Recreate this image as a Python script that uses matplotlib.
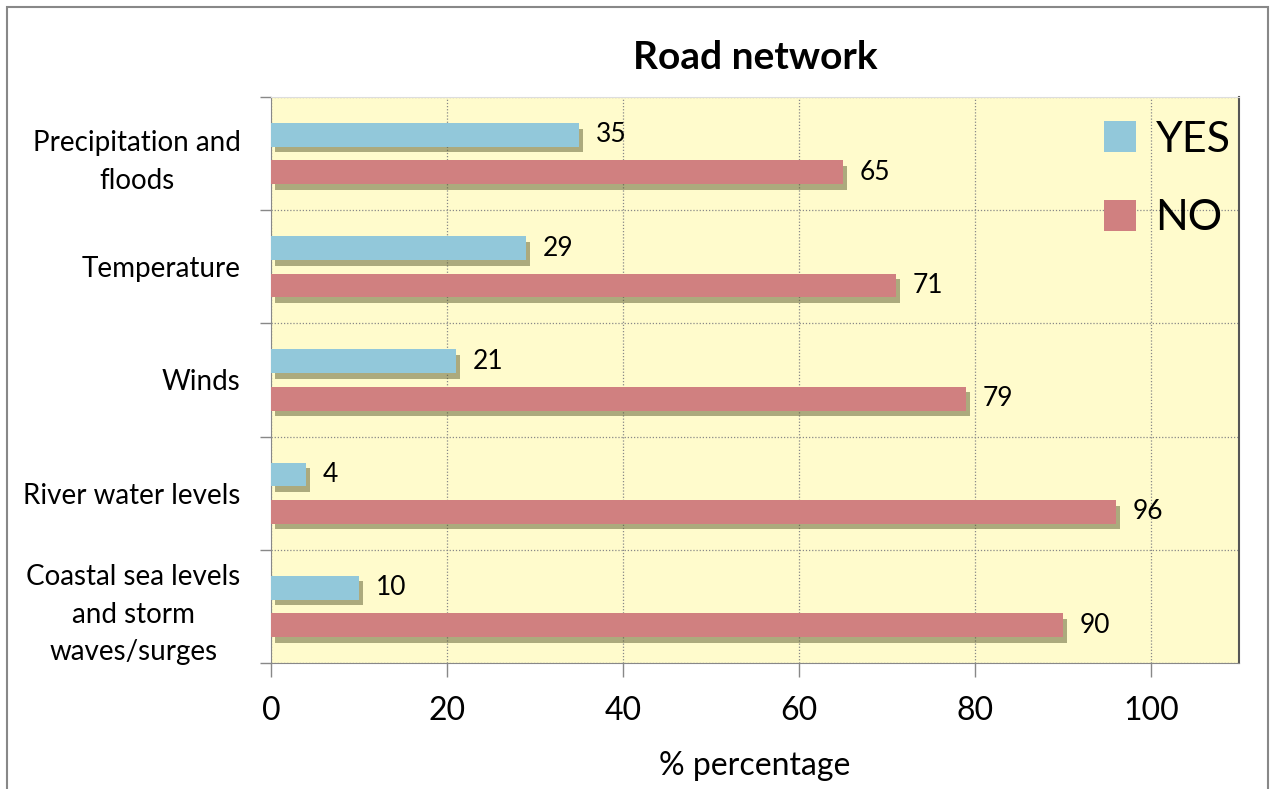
import matplotlib
matplotlib.use("Agg")
import matplotlib.pyplot as plt
import matplotlib.patheffects as pe
from matplotlib.patches import Rectangle
import numpy as np

categories = ["Precipitation and\nfloods", "Temperature", "Winds",
              "River water levels", "Coastal sea levels\nand storm\nwaves/surges"]
yes_vals = [35, 29, 21, 4, 10]
no_vals = [65, 71, 79, 96, 90]
xticks = [0, 20, 40, 60, 80, 100]

plt.rcParams['font.family'] = ['Lato', 'DejaVu Sans']

W, H = 1274, 789
fig = plt.figure(figsize=(W / 100, H / 100), dpi=100)
ax = fig.add_axes([271 / W, 1 - 663 / H, (1239 - 271) / W, (663 - 97) / H])
ax.set_facecolor('#FFFBCC')

y = np.arange(len(categories))
off = 0.165
h = 0.21
shadow = [pe.SimplePatchShadow(offset=(3, -4), shadow_rgbFace='#5a5a30', alpha=0.5), pe.Normal()]
b1 = ax.barh(y - off, yes_vals, height=h, color='#92C8DA', label='YES', zorder=3)
b2 = ax.barh(y + off, no_vals, height=h, color='#D08080', label='NO', zorder=3)
for bars in (b1, b2):
    for p in bars:
        p.set_path_effects(shadow)
    ax.bar_label(bars, labels=[str(v) for v in bars.datavalues], padding=12,
                 fontsize=19, color='black')

ax.set_xlim(0, 110)
ax.set_ylim(len(categories) - 0.5, -0.5)
ax.set_xticks(xticks)
ax.set_xticklabels([str(t) for t in xticks], fontsize=23)
ax.tick_params(axis='x', length=10, width=1, color='#888888', pad=14)

ax.set_yticks(y)
ax.set_yticklabels(categories, fontsize=20, linespacing=1.55, multialignment='center')
ax.set_yticks(np.arange(len(categories) + 1) - 0.5, minor=True)
ax.tick_params(axis='y', which='major', length=0, pad=22)
ax.tick_params(axis='y', which='minor', length=8, color='#888888', width=1)

ax.grid(axis='x', which='major', linestyle=(0, (1, 1.5)), color='#888888', linewidth=0.9, zorder=1)
ax.grid(axis='y', which='minor', linestyle=(0, (1, 1.5)), color='#888888', linewidth=0.9, zorder=1)
ax.grid(axis='y', which='major', visible=False)
ax.set_axisbelow(True)

for s in ('left', 'bottom'):
    ax.spines[s].set_color('#888888')
ax.spines['right'].set_color('#555555')
ax.spines['right'].set_linewidth(1.5)
ax.spines['top'].set_color('#dddddd')

ax.set_xlabel('% percentage', fontsize=23, labelpad=18)
ax.set_title('Road network', fontsize=28, fontweight='bold', pad=20)

leg = ax.legend(loc='upper right', bbox_to_anchor=(1.018, 1.004), fontsize=31, frameon=False,
                handlelength=0.75, handleheight=0.75, handletextpad=0.45, labelspacing=0.95,
                borderaxespad=0.2)
for hdl in leg.legend_handles:
    hdl.set_path_effects([])

fig.patches.append(Rectangle((7 / W, -0.01), (1268 - 7) / W, 1.01 - 7 / H,
                             transform=fig.transFigure, fill=False,
                             edgecolor='#888888', linewidth=1.5))

fig.savefig('out.png', dpi=100)
